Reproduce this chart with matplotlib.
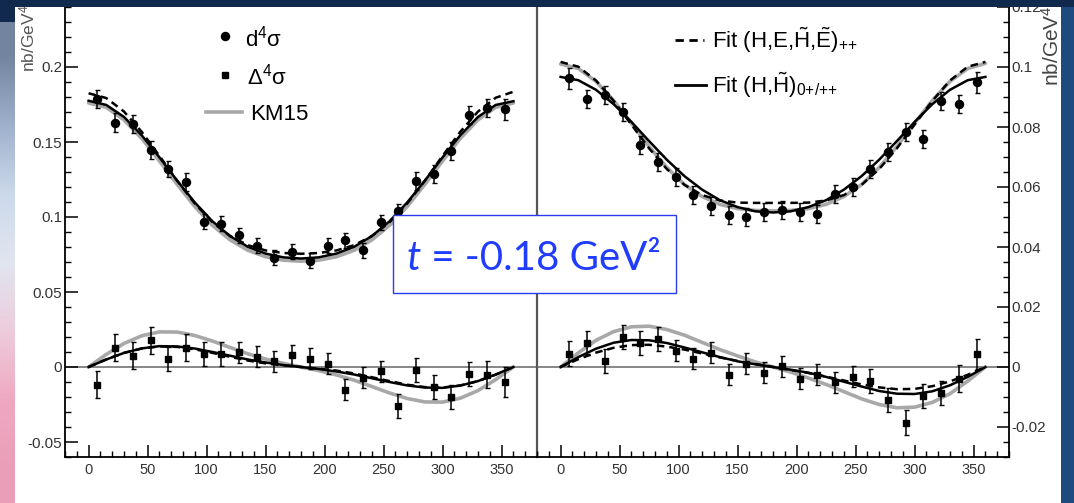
import matplotlib
matplotlib.use("Agg")
import matplotlib.pyplot as plt
from matplotlib.patches import Rectangle
from matplotlib.lines import Line2D
from matplotlib.ticker import MultipleLocator, FuncFormatter
import numpy as np

plt.rcParams["font.family"] = ["Liberation Sans", "DejaVu Sans"]
plt.rcParams["mathtext.fontset"] = "custom"
plt.rcParams["mathtext.rm"] = "Liberation Sans"
plt.rcParams["mathtext.it"] = "Liberation Sans:italic"
plt.rcParams["mathtext.default"] = "regular"

# -------------------------
# data
# -------------------------
PHI_BINS = [7.5, 22.5, 37.5, 52.5, 67.5, 82.5, 97.5, 112.5, 127.5, 142.5, 157.5, 172.5,
            187.5, 202.5, 217.5, 232.5, 247.5, 262.5, 277.5, 292.5, 307.5, 322.5, 337.5, 352.5]
PHI_CURVE = [0, 15, 30, 45, 60, 75, 90, 105, 120, 135, 150, 165, 180,
             195, 210, 225, 240, 255, 270, 285, 300, 315, 330, 345, 360]

# left panel: d4sigma (circles) and Delta4sigma (squares)
L_D4 = [0.179, 0.163, 0.162, 0.145, 0.132, 0.1235, 0.0967, 0.0955, 0.088, 0.081, 0.073, 0.077,
        0.071, 0.081, 0.0845, 0.078, 0.0965, 0.104, 0.124, 0.129, 0.144, 0.168, 0.173, 0.172]
L_D4_ERR = [0.006, 0.006, 0.006, 0.006, 0.005, 0.006, 0.005, 0.005, 0.005, 0.005, 0.005, 0.005,
            0.005, 0.005, 0.005, 0.005, 0.005, 0.005, 0.006, 0.006, 0.006, 0.006, 0.006, 0.007]
L_DELTA = [-0.0118, 0.0127, 0.0076, 0.018, 0.0056, 0.0127, 0.0089, 0.0084, 0.010, 0.0067, 0.004, 0.0078,
           0.0056, 0.0022, -0.015, -0.007, -0.0027, -0.026, -0.0022, -0.0133, -0.020, -0.0044, -0.005, -0.0102]
L_DELTA_ERR = [0.009, 0.009, 0.009, 0.009, 0.008, 0.009, 0.008, 0.008, 0.007, 0.007, 0.007, 0.007,
               0.007, 0.007, 0.007, 0.007, 0.007, 0.008, 0.008, 0.008, 0.008, 0.008, 0.009, 0.010]

L_KM15_TOP = [0.1760, 0.1731, 0.1648, 0.1524, 0.1374, 0.1218, 0.1070, 0.0944, 0.0847, 0.0778, 0.0735, 0.0712, 0.0705,
              0.0712, 0.0735, 0.0778, 0.0847, 0.0944, 0.1070, 0.1218, 0.1374, 0.1524, 0.1648, 0.1731, 0.1760]
L_FIT_HEHE_TOP = [0.1825, 0.1793, 0.1703, 0.1568, 0.1408, 0.1242, 0.1090, 0.0965, 0.0873, 0.0812, 0.0777, 0.0760, 0.0755,
                  0.0760, 0.0777, 0.0812, 0.0873, 0.0965, 0.1090, 0.1242, 0.1408, 0.1568, 0.1703, 0.1795, 0.1835]
L_FIT_HH_TOP = [0.1775, 0.1747, 0.1667, 0.1545, 0.1398, 0.1243, 0.1097, 0.0971, 0.0872, 0.0801, 0.0756, 0.0731, 0.0723,
                0.0731, 0.0756, 0.0801, 0.0872, 0.0971, 0.1097, 0.1243, 0.1398, 0.1545, 0.1667, 0.1747, 0.1772]
L_KM15_BOT = [0, 0.0084, 0.0157, 0.0208, 0.0234, 0.0233, 0.0210, 0.0173, 0.0130, 0.0088, 0.0053, 0.0024, 0,
              -0.0024, -0.0053, -0.0088, -0.0130, -0.0173, -0.0210, -0.0233, -0.0234, -0.0208, -0.0157, -0.0084, 0]
L_FIT_HEHE_BOT = [0, 0.0051, 0.0094, 0.0123, 0.0137, 0.0134, 0.0118, 0.0094, 0.0068, 0.0043, 0.0024, 0.0011, 0,
                  -0.0011, -0.0024, -0.0043, -0.0068, -0.0094, -0.0118, -0.0134, -0.0137, -0.0123, -0.0094, -0.0051, 0]
L_FIT_HH_BOT = [0, 0.0050, 0.0094, 0.0124, 0.0139, 0.0137, 0.0123, 0.0100, 0.0075, 0.0050, 0.0030, 0.0013, 0,
                -0.0013, -0.0030, -0.0050, -0.0075, -0.0100, -0.0123, -0.0137, -0.0139, -0.0124, -0.0094, -0.0050, 0]

# right panel
R_D4 = [0.0963, 0.0895, 0.0906, 0.085, 0.0739, 0.0683, 0.0633, 0.0572, 0.0537, 0.0508, 0.0500, 0.0517,
        0.0522, 0.0517, 0.0511, 0.0578, 0.0600, 0.0661, 0.0717, 0.0783, 0.0759, 0.0887, 0.0878, 0.0950]
R_D4_ERR = [0.0035, 0.003, 0.003, 0.003, 0.003, 0.003, 0.003, 0.003, 0.003, 0.003, 0.003, 0.003,
            0.003, 0.003, 0.003, 0.003, 0.003, 0.003, 0.003, 0.003, 0.003, 0.003, 0.003, 0.0035]
R_DELTA = [0.0045, 0.0081, 0.0019, 0.0099, 0.0079, 0.0092, 0.0054, 0.0028, 0.0047, -0.0025, 0.0011, -0.0019,
           0.0002, -0.0039, -0.0025, -0.0051, -0.0032, -0.0047, -0.011, -0.0186, -0.0098, -0.0085, -0.0039, 0.0043]
R_DELTA_ERR = [0.0043, 0.004, 0.004, 0.004, 0.004, 0.004, 0.0035, 0.0035, 0.0035, 0.0035, 0.0035, 0.0035,
               0.0035, 0.0035, 0.0035, 0.0035, 0.0035, 0.004, 0.004, 0.0042, 0.004, 0.004, 0.0045, 0.0049]

R_KM15_TOP = [0.1010, 0.0995, 0.0952, 0.0888, 0.0813, 0.0735, 0.0665, 0.0608, 0.0568, 0.0542, 0.0528, 0.0522, 0.0520,
              0.0522, 0.0528, 0.0542, 0.0568, 0.0608, 0.0665, 0.0735, 0.0813, 0.0888, 0.0952, 0.0995, 0.1012]
R_FIT_HEHE_TOP = [0.1017, 0.1001, 0.0955, 0.0887, 0.0808, 0.0729, 0.0660, 0.0607, 0.0573, 0.0555, 0.0548, 0.0547, 0.0547,
                  0.0547, 0.0548, 0.0555, 0.0573, 0.0607, 0.0660, 0.0729, 0.0808, 0.0887, 0.0955, 0.1001, 0.1017]
R_FIT_HH_TOP = [0.0967, 0.0956, 0.0924, 0.0876, 0.0817, 0.0753, 0.0691, 0.0636, 0.0591, 0.0556, 0.0533, 0.0519, 0.0515,
                0.0519, 0.0533, 0.0556, 0.0591, 0.0636, 0.0691, 0.0753, 0.0817, 0.0876, 0.0924, 0.0956, 0.0967]
R_KM15_BOT = [0, 0.0047, 0.0089, 0.0118, 0.0134, 0.0136, 0.0125, 0.0106, 0.0082, 0.0058, 0.0037, 0.0017, 0,
              -0.0017, -0.0037, -0.0058, -0.0082, -0.0106, -0.0125, -0.0136, -0.0134, -0.0118, -0.0089, -0.0047, 0]
R_FIT_HEHE_BOT = [0, 0.0026, 0.0048, 0.0064, 0.0073, 0.0074, 0.0068, 0.0058, 0.0045, 0.0032, 0.0020, 0.0010, 0,
                  -0.0010, -0.0020, -0.0032, -0.0045, -0.0058, -0.0068, -0.0074, -0.0073, -0.0064, -0.0048, -0.0026, 0]
R_FIT_HH_BOT = [0, 0.0033, 0.0061, 0.0081, 0.0090, 0.0089, 0.0080, 0.0065, 0.0049, 0.0033, 0.0019, 0.0009, 0,
                -0.0009, -0.0019, -0.0033, -0.0049, -0.0065, -0.0080, -0.0089, -0.0090, -0.0081, -0.0061, -0.0033, 0]

# -------------------------
# figure / slide background
# -------------------------
W, H = 1074, 503
NAVY = "#10294d"
fig = plt.figure(figsize=(W / 100, H / 100), dpi=100, facecolor=NAVY)


def fx(px):
    return px / W


def fy(py):
    return 1 - py / H


fig.add_artist(Rectangle((fx(15), 0), fx(1061 - 15), fy(7), transform=fig.transFigure,
                         facecolor="white", edgecolor="none", zorder=0))
fig.add_artist(Rectangle((fx(1061), 0), fx(13), fy(7), transform=fig.transFigure,
                         facecolor="#1f4a80", edgecolor="none", zorder=0))

# light strip at the far left of the slide
ax_bg = fig.add_axes([0, 0, fx(15), fy(22)])
strip = np.array([[[0.45, 0.52, 0.63]], [[0.62, 0.69, 0.80]], [[0.80, 0.85, 0.92]],
                  [[0.88, 0.90, 0.94]], [[0.93, 0.80, 0.86]], [[0.94, 0.66, 0.76]],
                  [[0.92, 0.62, 0.72]]])
ax_bg.imshow(strip, aspect="auto", interpolation="bilinear")
ax_bg.axis("off")

# -------------------------
# panels
# -------------------------
axL = fig.add_axes([fx(65), fy(457), fx(472), 450 / H])
axR = fig.add_axes([fx(537), fy(457), fx(472), 450 / H])

GRAY = "#a8a8a8"
fmt = FuncFormatter(lambda v, p: "%g" % round(v, 4))

for ax, top, bot in [
    (axL, (L_KM15_TOP, L_FIT_HEHE_TOP, L_FIT_HH_TOP, L_D4, L_D4_ERR),
     (L_KM15_BOT, L_FIT_HEHE_BOT, L_FIT_HH_BOT, L_DELTA, L_DELTA_ERR)),
    (axR, (R_KM15_TOP, R_FIT_HEHE_TOP, R_FIT_HH_TOP, R_D4, R_D4_ERR),
     (R_KM15_BOT, R_FIT_HEHE_BOT, R_FIT_HH_BOT, R_DELTA, R_DELTA_ERR)),
]:
    ax.set_facecolor("none")
    ax.axhline(0, color="#666666", lw=1.1, zorder=1)
    for (km, f1, f2, d, e), mk, ms in [(top, "o", 5.8), (bot, "s", 5.0)]:
        ax.plot(PHI_CURVE, km, color=GRAY, lw=2.6, zorder=2, solid_capstyle="round")
        ax.plot(PHI_CURVE, f1, color="black", lw=1.8, dashes=(3, 2), zorder=3)
        ax.plot(PHI_CURVE, f2, color="black", lw=1.8, zorder=4)
        ax.errorbar(PHI_BINS, d, yerr=e, fmt=mk, ms=ms, color="black", ecolor="black",
                    elinewidth=1.1, capsize=1.8, capthick=1.0, zorder=5)
    ax.set_xlim(-20, 380)
    ax.xaxis.set_major_locator(MultipleLocator(50))
    ax.xaxis.set_minor_locator(MultipleLocator(10))
    ax.xaxis.set_major_formatter(FuncFormatter(lambda v, p: "%d" % v))
    ax.spines["top"].set_visible(False)
    for s in ax.spines.values():
        s.set_linewidth(1.3)
    ax.tick_params(axis="both", which="major", direction="in", length=9, width=1.1,
                   labelsize=10.5, labelcolor="#333333")
    ax.tick_params(axis="both", which="minor", direction="in", length=4.5, width=1.0)
    ax.tick_params(axis="x", which="both", top=False, pad=4)

axL.set_ylim(-0.06, 0.24)
axL.yaxis.set_major_locator(MultipleLocator(0.05))
axL.yaxis.set_minor_locator(MultipleLocator(0.01))
axL.yaxis.set_major_formatter(fmt)
axL.tick_params(axis="y", which="both", right=False, labelsize=11, pad=2)
axL.spines["right"].set_color("#555555")
axL.spines["right"].set_linewidth(1.6)

axR.set_ylim(-0.03, 0.12)
axR.yaxis.set_major_locator(MultipleLocator(0.02))
axR.yaxis.set_minor_locator(MultipleLocator(0.005))
axR.yaxis.set_major_formatter(fmt)
axR.yaxis.tick_right()
axR.tick_params(axis="y", which="both", left=False, right=True, labelright=True,
                labelleft=False, labelsize=11, pad=2)
axR.spines["left"].set_visible(False)

# axis titles (ROOT style, at the top)
fig.text(fx(27), fy(5), "nb/GeV$^{4}$", rotation=90, ha="center", va="top",
         fontsize=12.5, color="#555555", zorder=3)
fig.text(fx(1052), fy(5), "nb/GeV$^{4}$", rotation=90, ha="center", va="top",
         fontsize=15, color="#444444", zorder=3)

# -------------------------
# legends
# -------------------------
LEG_FS = 16
fig.add_artist(Line2D([fx(225)], [fy(36)], marker="o", ms=5.8, color="black",
                      transform=fig.transFigure))
fig.text(fx(245), fy(46), "d$^{4}$σ", fontsize=LEG_FS, va="baseline", ha="left")
fig.add_artist(Line2D([fx(225)], [fy(75)], marker="s", ms=4.5, color="black",
                      transform=fig.transFigure))
fig.text(fx(247), fy(85), "Δ$^{4}$σ", fontsize=LEG_FS, va="baseline", ha="left")
fig.add_artist(Line2D([fx(206), fx(242)], [fy(112), fy(112)], color=GRAY, lw=2.6,
                      transform=fig.transFigure))
fig.text(fx(250), fy(120), "KM15", fontsize=LEG_FS, va="baseline", ha="left")

fig.add_artist(Line2D([fx(675), fx(704)], [fy(40), fy(40)], color="black", lw=2.0,
                      dashes=(3, 2), transform=fig.transFigure))
fig.text(fx(712), fy(48), r"Fit (H,E,$\tilde{H}$,$\tilde{E}$)$_{{+}{+}}$", fontsize=LEG_FS,
         va="baseline", ha="left")
fig.add_artist(Line2D([fx(675), fx(706)], [fy(85), fy(85)], color="black", lw=2.0,
                      transform=fig.transFigure))
fig.text(fx(712), fy(93), r"Fit (H,$\tilde{H}$)$_{0{+}/{+}{+}}$", fontsize=LEG_FS,
         va="baseline", ha="left")

# -------------------------
# t value box
# -------------------------
BLUE = "#1f3cff"
fig.add_artist(Rectangle((fx(393), fy(293)), fx(676 - 393), 78 / H, transform=fig.transFigure,
                         facecolor="white", edgecolor="#2a3cf0", lw=1.0, zorder=6))
t_obj = fig.text(fx(407), fy(270), "t", fontsize=29, family="Lato", style="italic",
                 color=BLUE, ha="left", va="baseline", zorder=7)
rend = fig.canvas.get_renderer()
bb = t_obj.get_window_extent(rend)
fig.text(bb.x1 / W, fy(270), " = -0.18 GeV²", fontsize=29, family="Lato",
         color=BLUE, ha="left", va="baseline", zorder=7)

# navy strip at the very top (crops the plot like the slide does)
fig.add_artist(Rectangle((0, fy(7)), 1, 7 / H, transform=fig.transFigure,
                         facecolor=NAVY, edgecolor="none", zorder=10))

fig.savefig("out.png", dpi=100, facecolor=NAVY)
